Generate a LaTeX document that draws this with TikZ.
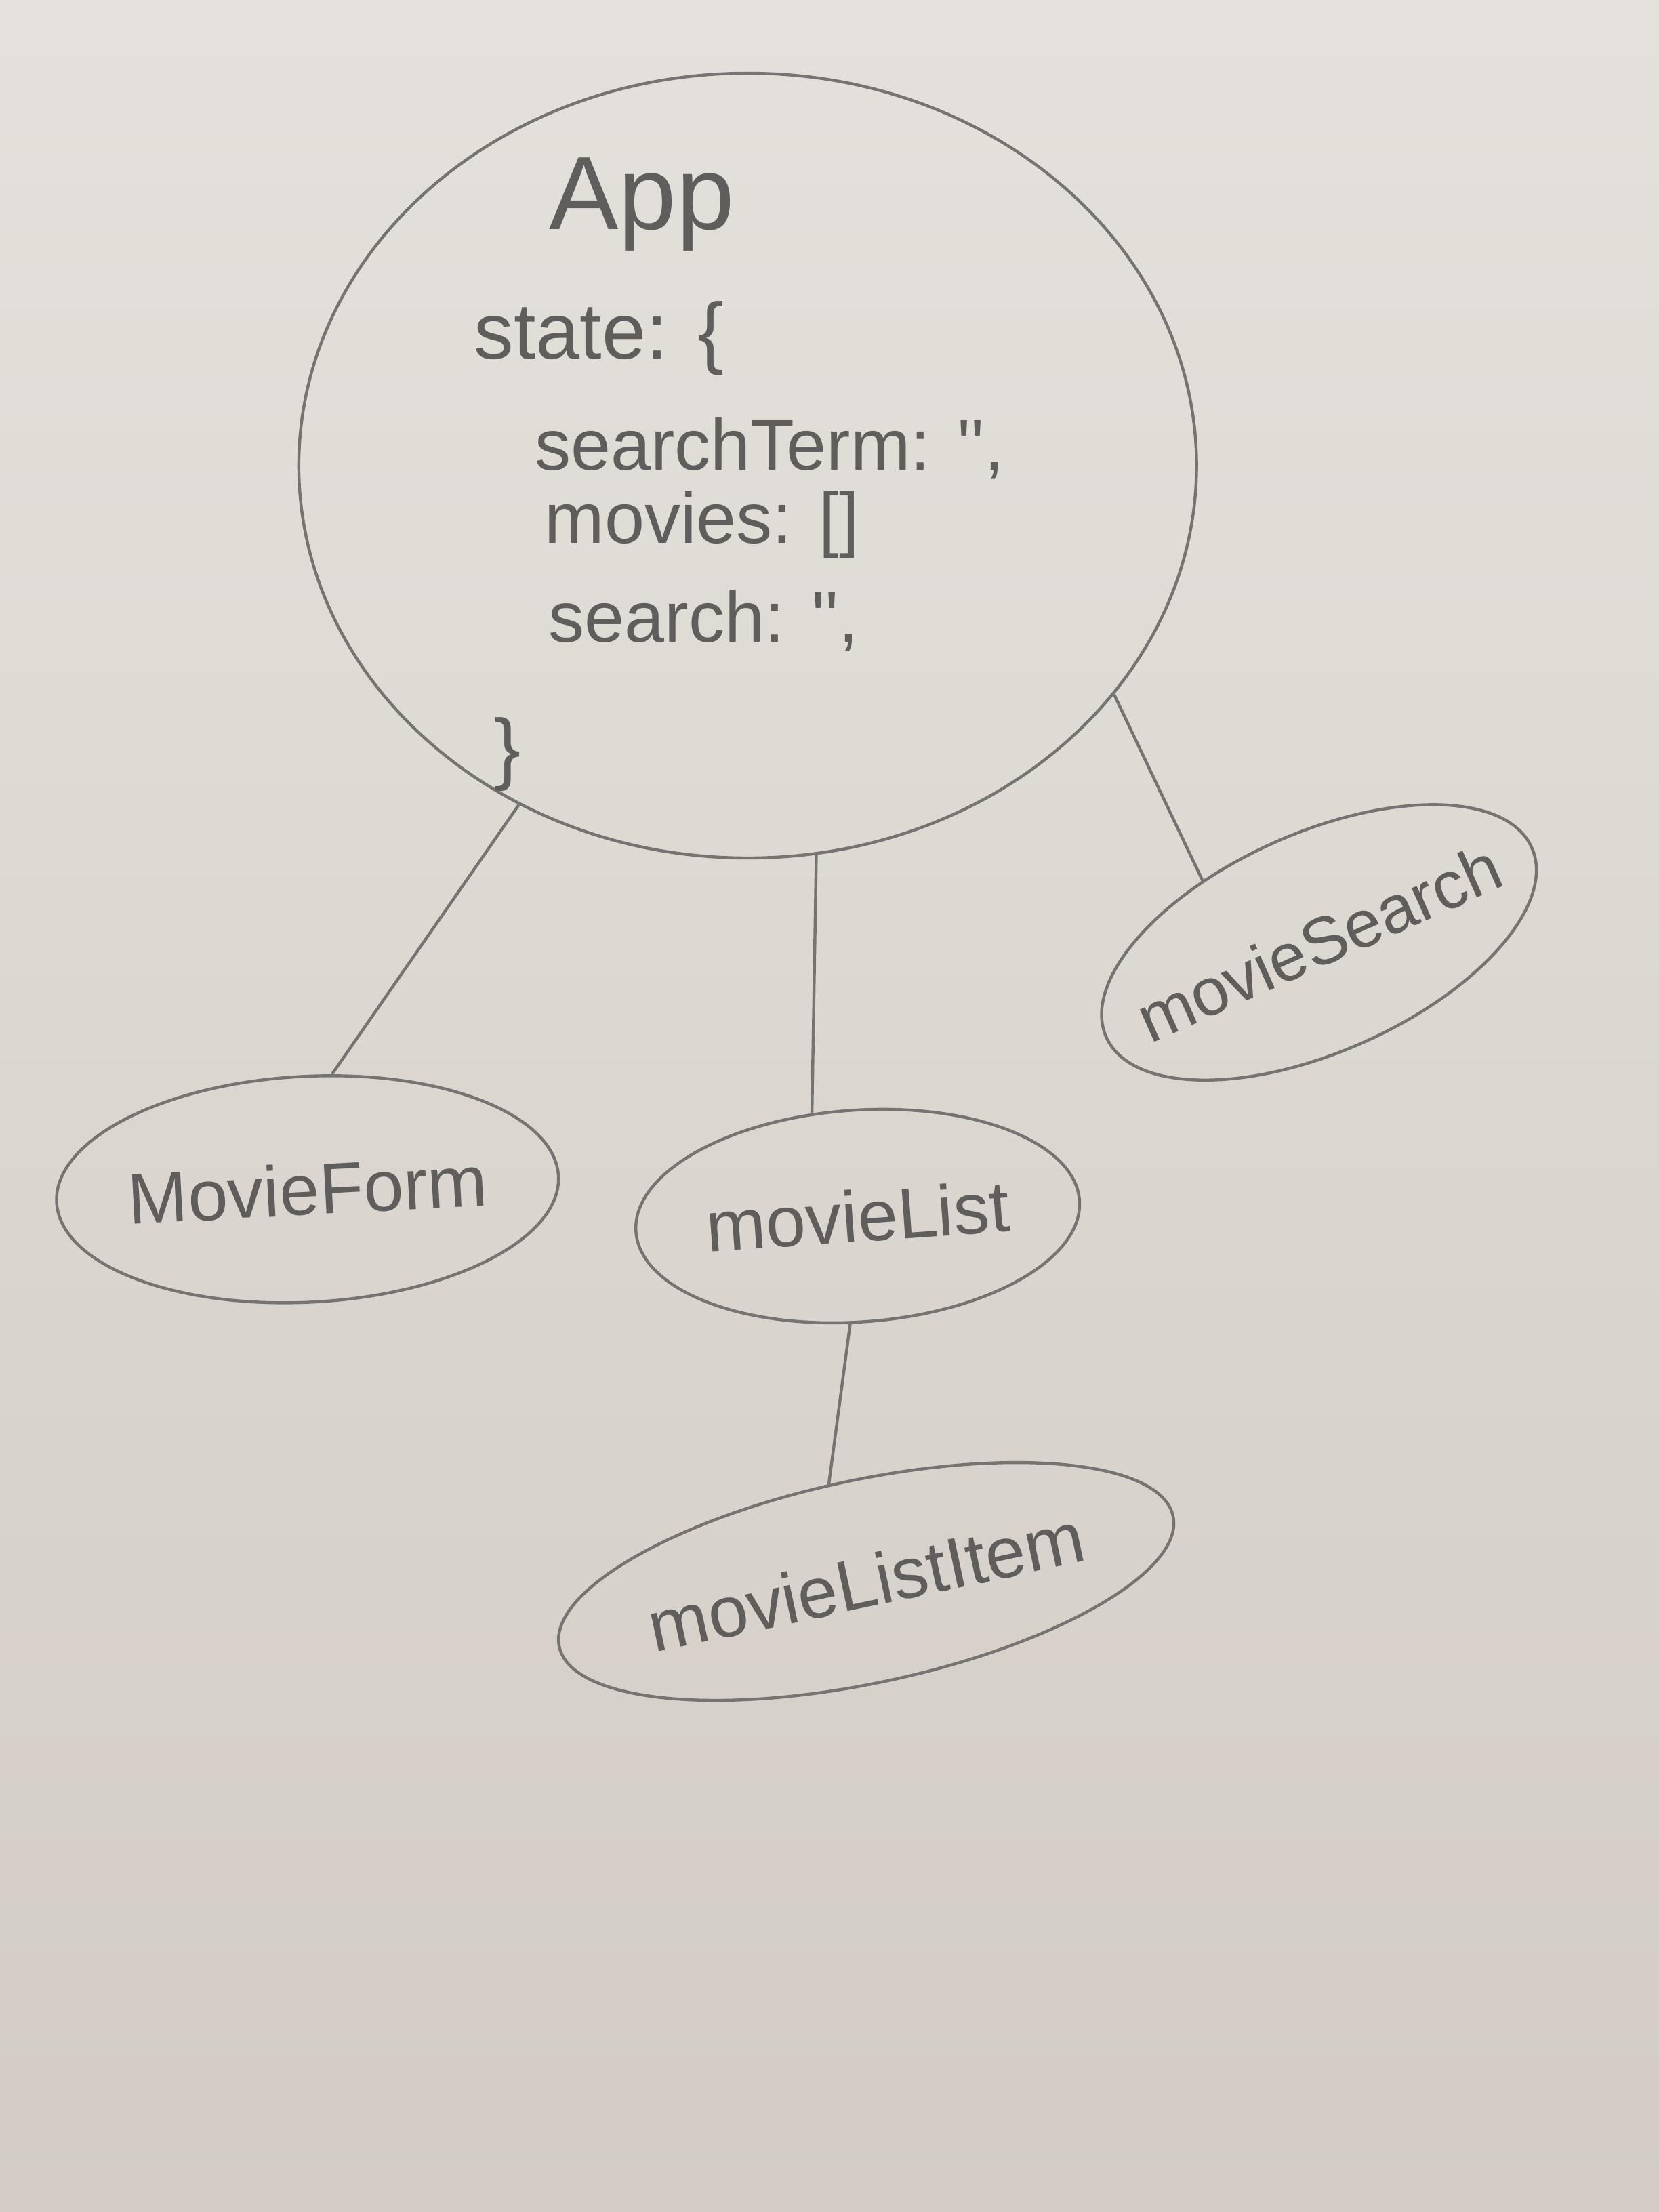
\documentclass[tikz,border=0pt]{standalone}
\usepackage{fontspec}
\setmainfont{Liberation Sans}
\usetikzlibrary{shapes.geometric}
\definecolor{paperhi}{RGB}{228,225,220}
\definecolor{paperlo}{RGB}{210,204,196}
\definecolor{pencil}{RGB}{118,116,114}
\definecolor{lead}{RGB}{96,94,92}

\begin{document}
\begin{tikzpicture}[x=0.01cm, y=-0.01cm, line width=0.6pt,
  blob/.style={ellipse, draw=pencil, inner sep=0pt},
  hand/.style={text=lead, inner sep=0pt},
  big/.style={font=\fontsize{21}{25}\selectfont},
  mid/.style={font=\fontsize{16}{19}\selectfont},
  small/.style={font=\fontsize{14.5}{17}\selectfont},
  tiny/.style={font=\fontsize{13.5}{16}\selectfont}]
\shade[top color=paperhi, bottom color=paperlo] (0,0) rectangle (1176,1568);
\useasboundingbox (0,0) rectangle (1176,1568);
\node[blob, minimum width=6.36cm, minimum height=5.56cm] (App) at (530,330) {};
\node[hand, big] (AppName) at (455,145) {App};
\node[hand, mid, anchor=west] (State) at (335,240) {state: \{};
\node[hand, small, anchor=west] (Term) at (378,318) {searchTerm: \textquotesingle\textquotesingle,};
\node[hand, small, anchor=west] (Movies) at (385,372) {movies: []};
\node[hand, small, anchor=west] (Search) at (388,440) {search: \textquotesingle\textquotesingle,};
\node[hand, mid] (Close) at (360,535) {\}};
\node[blob, hand, small, inner xsep=-10pt, minimum width=3.56cm, minimum height=1.6cm, rotate=3] (Form) at (218,843) {MovieForm};
\node[blob, hand, small, minimum width=3.15cm, minimum height=1.5cm, rotate=4] (List) at (608,862) {movieList};
\node[blob, hand, tiny, inner xsep=-12pt, minimum width=3.3cm, minimum height=1.55cm, rotate=24] (Find) at (935,668) {movieSearch};
\node[blob, hand, small, minimum width=4.3cm, minimum height=1.44cm, rotate=12] (Item) at (614,1121) {movieListItem};
\draw[pencil] (App.236) -- (Form.75);
\draw[pencil] (App.280) -- (List.110);
\draw[pencil] (App.328) -- (Find.128);
\draw[pencil] (List.262) -- (Item.99);
\end{tikzpicture}
\end{document}
